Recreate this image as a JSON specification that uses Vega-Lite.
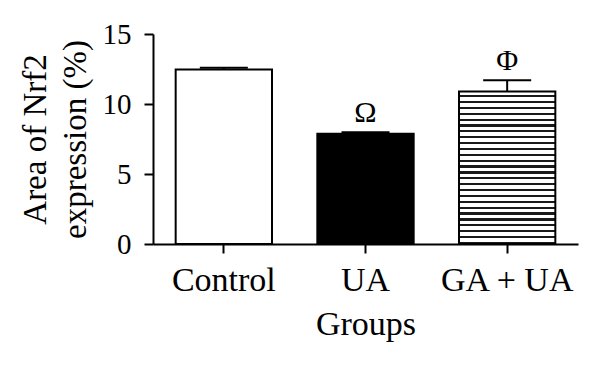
{
  "$schema": "https://vega.github.io/schema/vega-lite/v6.json",
  "width": 425,
  "height": 210,
  "autosize": {"type": "none"},
  "padding": {"left": 153, "top": 34, "right": 22, "bottom": 121},
  "background": "white",
  "config": {
    "view": {"stroke": null},
    "font": "Liberation Serif",
    "axis": {
      "grid": false,
      "domainColor": "black",
      "domainWidth": 2,
      "tickColor": "black",
      "tickWidth": 2,
      "tickSize": 9,
      "labelColor": "black",
      "titleColor": "black",
      "labelFont": "Liberation Serif",
      "titleFont": "Liberation Serif",
      "titleFontWeight": "normal"
    },
    "axisY": {
      "labelFontSize": 29,
      "titleFontSize": 33,
      "labelPadding": 13,
      "titlePadding": 10,
      "titleLineHeight": 40
    },
    "axisX": {
      "labelFontSize": 34,
      "titleFontSize": 34,
      "labelPadding": 10,
      "titlePadding": 10,
      "labelAngle": 0
    }
  },
  "data": {
    "values": [
      {"group": "Control", "mean": 12.47, "upper": 12.59, "sig": ""},
      {"group": "UA", "mean": 7.87, "upper": 7.99, "sig": "Ω"},
      {"group": "GA + UA", "mean": 10.9, "upper": 11.69, "sig": "Φ"}
    ]
  },
  "encoding": {
    "x": {
      "field": "group",
      "type": "nominal",
      "sort": null,
      "scale": {"paddingInner": 0.32, "paddingOuter": 0.16},
      "axis": {"title": "Groups"}
    }
  },
  "layer": [
    {
      "transform": [{"filter": "datum.group !== 'GA + UA'"}],
      "mark": {"type": "bar", "stroke": "black", "strokeWidth": 2},
      "encoding": {
        "y": {
          "field": "mean",
          "type": "quantitative",
          "scale": {"domain": [0, 15], "nice": false},
          "axis": {
            "values": [0, 5, 10, 15],
            "title": ["Area of Nrf2", "expression (%)"]
          }
        },
        "fill": {
          "condition": {"test": "datum.group === 'UA'", "value": "black"},
          "value": "white"
        }
      }
    },
    {
      "transform": [{"filter": "datum.group === 'GA + UA'"}],
      "mark": {
        "type": "bar",
        "stroke": "black",
        "strokeWidth": 2,
        "fill": {
          "gradient": "linear",
          "x1": 0, "y1": 0, "x2": 0, "y2": 1,
          "stops": [
            {"offset": 0, "color": "white"}, {"offset": 0.024, "color": "white"}, {"offset": 0.024, "color": "#1a1a1a"}, {"offset": 0.0385, "color": "#1a1a1a"},
            {"offset": 0.0385, "color": "white"}, {"offset": 0.0625, "color": "white"}, {"offset": 0.0625, "color": "#1a1a1a"}, {"offset": 0.0769, "color": "#1a1a1a"},
            {"offset": 0.0769, "color": "white"}, {"offset": 0.1009, "color": "white"}, {"offset": 0.1009, "color": "#1a1a1a"}, {"offset": 0.1154, "color": "#1a1a1a"},
            {"offset": 0.1154, "color": "white"}, {"offset": 0.1394, "color": "white"}, {"offset": 0.1394, "color": "#1a1a1a"}, {"offset": 0.1538, "color": "#1a1a1a"},
            {"offset": 0.1538, "color": "white"}, {"offset": 0.1778, "color": "white"}, {"offset": 0.1778, "color": "#1a1a1a"}, {"offset": 0.1923, "color": "#1a1a1a"},
            {"offset": 0.1923, "color": "white"}, {"offset": 0.2163, "color": "white"}, {"offset": 0.2163, "color": "#1a1a1a"}, {"offset": 0.2308, "color": "#1a1a1a"},
            {"offset": 0.2308, "color": "white"}, {"offset": 0.2548, "color": "white"}, {"offset": 0.2548, "color": "#1a1a1a"}, {"offset": 0.2692, "color": "#1a1a1a"},
            {"offset": 0.2692, "color": "white"}, {"offset": 0.2932, "color": "white"}, {"offset": 0.2932, "color": "#1a1a1a"}, {"offset": 0.3077, "color": "#1a1a1a"},
            {"offset": 0.3077, "color": "white"}, {"offset": 0.3317, "color": "white"}, {"offset": 0.3317, "color": "#1a1a1a"}, {"offset": 0.3462, "color": "#1a1a1a"},
            {"offset": 0.3462, "color": "white"}, {"offset": 0.3702, "color": "white"}, {"offset": 0.3702, "color": "#1a1a1a"}, {"offset": 0.3846, "color": "#1a1a1a"},
            {"offset": 0.3846, "color": "white"}, {"offset": 0.4086, "color": "white"}, {"offset": 0.4086, "color": "#1a1a1a"}, {"offset": 0.4231, "color": "#1a1a1a"},
            {"offset": 0.4231, "color": "white"}, {"offset": 0.4471, "color": "white"}, {"offset": 0.4471, "color": "#1a1a1a"}, {"offset": 0.4615, "color": "#1a1a1a"},
            {"offset": 0.4615, "color": "white"}, {"offset": 0.4855, "color": "white"}, {"offset": 0.4855, "color": "#1a1a1a"}, {"offset": 0.5, "color": "#1a1a1a"},
            {"offset": 0.5, "color": "white"}, {"offset": 0.524, "color": "white"}, {"offset": 0.524, "color": "#1a1a1a"}, {"offset": 0.5385, "color": "#1a1a1a"},
            {"offset": 0.5385, "color": "white"}, {"offset": 0.5625, "color": "white"}, {"offset": 0.5625, "color": "#1a1a1a"}, {"offset": 0.5769, "color": "#1a1a1a"},
            {"offset": 0.5769, "color": "white"}, {"offset": 0.6009, "color": "white"}, {"offset": 0.6009, "color": "#1a1a1a"}, {"offset": 0.6154, "color": "#1a1a1a"},
            {"offset": 0.6154, "color": "white"}, {"offset": 0.6394, "color": "white"}, {"offset": 0.6394, "color": "#1a1a1a"}, {"offset": 0.6538, "color": "#1a1a1a"},
            {"offset": 0.6538, "color": "white"}, {"offset": 0.6778, "color": "white"}, {"offset": 0.6778, "color": "#1a1a1a"}, {"offset": 0.6923, "color": "#1a1a1a"},
            {"offset": 0.6923, "color": "white"}, {"offset": 0.7163, "color": "white"}, {"offset": 0.7163, "color": "#1a1a1a"}, {"offset": 0.7308, "color": "#1a1a1a"},
            {"offset": 0.7308, "color": "white"}, {"offset": 0.7548, "color": "white"}, {"offset": 0.7548, "color": "#1a1a1a"}, {"offset": 0.7692, "color": "#1a1a1a"},
            {"offset": 0.7692, "color": "white"}, {"offset": 0.7932, "color": "white"}, {"offset": 0.7932, "color": "#1a1a1a"}, {"offset": 0.8077, "color": "#1a1a1a"},
            {"offset": 0.8077, "color": "white"}, {"offset": 0.8317, "color": "white"}, {"offset": 0.8317, "color": "#1a1a1a"}, {"offset": 0.8462, "color": "#1a1a1a"},
            {"offset": 0.8462, "color": "white"}, {"offset": 0.8702, "color": "white"}, {"offset": 0.8702, "color": "#1a1a1a"}, {"offset": 0.8846, "color": "#1a1a1a"},
            {"offset": 0.8846, "color": "white"}, {"offset": 0.9086, "color": "white"}, {"offset": 0.9086, "color": "#1a1a1a"}, {"offset": 0.9231, "color": "#1a1a1a"},
            {"offset": 0.9231, "color": "white"}, {"offset": 0.9471, "color": "white"}, {"offset": 0.9471, "color": "#1a1a1a"}, {"offset": 0.9615, "color": "#1a1a1a"},
            {"offset": 0.9615, "color": "white"}, {"offset": 0.9855, "color": "white"}, {"offset": 0.9855, "color": "#1a1a1a"}, {"offset": 1, "color": "#1a1a1a"}
          ]
        }
      },
      "encoding": {
        "y": {"field": "mean", "type": "quantitative"}
      }
    },
    {
      "mark": {"type": "rule", "color": "black", "strokeWidth": 2},
      "encoding": {
        "y": {"field": "mean", "type": "quantitative"},
        "y2": {"field": "upper"}
      }
    },
    {
      "mark": {"type": "tick", "color": "black", "thickness": 2, "size": 48, "opacity": 1},
      "encoding": {
        "y": {"field": "upper", "type": "quantitative"}
      }
    },
    {
      "mark": {"type": "text", "fontSize": 30, "baseline": "middle", "dy": -19, "color": "black", "font": "Liberation Serif"},
      "encoding": {
        "y": {"field": "upper", "type": "quantitative"},
        "text": {"field": "sig"}
      }
    }
  ]
}
